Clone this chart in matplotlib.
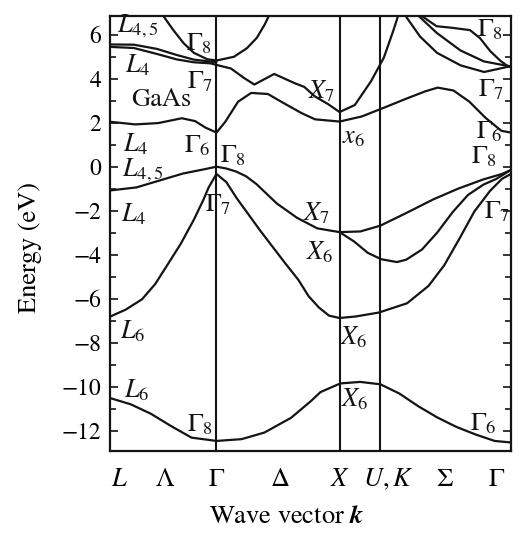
"""
GaAs band structure along L - Gamma - X - U,K - Gamma
output: out.png
"""

import matplotlib
matplotlib.use("Agg")
import matplotlib.pyplot as plt
from matplotlib.ticker import MultipleLocator

OUTPUT_PNG = "out.png"

# symmetry points along the path (Gamma-X = 1)
K_GAMMA = 0.875
K_X = 1.885
K_UK = 2.22
K_END = 3.29

# x tick labels and where they sit
XTICK_POS = [0.08, 0.45, 0.873, 1.394, 1.886, 2.287, 2.75, 3.17]
XTICK_TXT = [r"$L$", r"$\Lambda$", r"$\Gamma$", r"$\Delta$", r"$X$",
             r"$U,K$", r"$\Sigma$", r"$\Gamma$"]

# valence bands
V1_K = [0.0, 0.173, 0.338, 0.504, 0.670, 0.875, 1.080, 1.268, 1.487, 1.648,
        1.729, 1.891, 2.055, 2.220, 2.376, 2.532, 2.689, 2.846, 3.002, 3.157, 3.29]
V1_E = [-10.50, -10.79, -11.22, -11.78, -12.30, -12.45, -12.37, -12.07, -11.40,
        -10.65, -10.23, -9.84, -9.77, -9.88, -10.30, -10.88, -11.39, -11.82,
        -12.16, -12.45, -12.52]

V2_K = [0.0, 0.130, 0.264, 0.372, 0.478, 0.583, 0.689, 0.768, 0.810, 0.875,
        0.956, 1.041, 1.235, 1.437, 1.546, 1.631, 1.715, 1.798, 1.885, 2.017,
        2.208, 2.439, 2.615, 2.743, 2.869, 2.990, 3.119, 3.218, 3.29]
V2_E = [-6.81, -6.49, -6.02, -5.33, -4.41, -3.49, -2.41, -1.50, -0.95, -0.33,
        -0.70, -1.43, -2.91, -4.37, -5.13, -5.88, -6.39, -6.76, -6.87, -6.80,
        -6.62, -6.20, -5.41, -4.48, -3.26, -2.04, -1.10, -0.55, -0.33]

V3_K = [0.0, 0.219, 0.406, 0.600, 0.763, 0.875, 0.954, 1.037, 1.119, 1.203,
        1.370, 1.536, 1.702, 1.885, 2.055, 2.218, 2.426, 2.655, 2.861, 3.063,
        3.217, 3.29]
V3_E = [-1.08, -0.94, -0.63, -0.31, -0.13, 0.0, -0.08, -0.22, -0.44, -0.79,
        -1.67, -2.32, -2.80, -2.97, -2.94, -2.68, -2.12, -1.48, -0.99, -0.58,
        -0.33, -0.15]

V4_K = [1.885, 2.005, 2.116, 2.226, 2.356, 2.432, 2.561, 2.686, 2.813, 2.939,
        3.066, 3.169, 3.29]
V4_E = [-2.97, -3.40, -3.91, -4.20, -4.33, -4.22, -3.76, -2.99, -2.06, -1.28,
        -0.81, -0.56, -0.15]

# conduction bands
C1_K = [0.0, 0.209, 0.397, 0.591, 0.700, 0.783, 0.875, 0.946, 1.052, 1.160,
        1.297, 1.435, 1.574, 1.684, 1.885, 2.067, 2.254, 2.433, 2.587, 2.690,
        2.819, 2.950, 3.082, 3.212, 3.29]
C1_E = [2.04, 1.92, 1.98, 2.20, 2.07, 1.78, 1.55, 2.03, 2.95, 3.35, 3.30, 2.86,
        2.43, 2.15, 2.05, 2.28, 2.69, 3.09, 3.42, 3.59, 3.46, 2.95, 2.22, 1.63,
        1.55]

P1_K = [0.0, 0.196, 0.385, 0.55, 0.69, 0.827, 0.875]
P1_E = [5.55, 5.54, 5.35, 5.07, 4.86, 4.77, 4.75]

P2_K = [0.0, 0.196, 0.385, 0.55, 0.69, 0.83, 0.875, 0.993, 1.103, 1.186, 1.267,
        1.349, 1.513, 1.596, 1.680, 1.791, 1.885, 2.010, 2.143, 2.248, 2.326, 2.37]
P2_E = [5.44, 5.39, 5.12, 4.87, 4.74, 4.69, 4.62, 4.46, 4.02, 3.73, 3.97, 4.21,
        3.80, 3.62, 3.20, 2.84, 2.48, 2.80, 3.88, 4.95, 6.18, 6.94]

G8_K = [0.437, 0.521, 0.605, 0.689, 0.799, 0.875, 1.018, 1.125, 1.206, 1.272, 1.312]
G8_E = [6.86, 6.20, 5.61, 5.17, 4.88, 4.82, 4.99, 5.38, 5.85, 6.47, 6.93]

SA_K = [2.528, 2.680, 2.817, 2.955, 3.038, 3.122, 3.206, 3.261, 3.29]
SA_E = [6.96, 6.38, 6.30, 6.20, 5.83, 5.24, 4.80, 4.58, 4.55]

SB_K = [2.511, 2.681, 2.876, 3.069, 3.26, 3.29]
SB_E = [6.96, 6.08, 5.28, 4.78, 4.58, 4.55]

SC_K = [2.432, 2.545, 2.684, 2.878, 3.071, 3.26, 3.29]
SC_E = [6.80, 5.91, 5.17, 4.60, 4.30, 4.53, 4.55]

BANDS = [(V1_K, V1_E), (V2_K, V2_E), (V3_K, V3_E), (V4_K, V4_E),
         (C1_K, C1_E), (P1_K, P1_E), (P2_K, P2_E), (G8_K, G8_E),
         (SA_K, SA_E), (SB_K, SB_E), (SC_K, SC_E)]

# state labels
LABEL_TXT = [r"$L_{4,5}$", r"$\Gamma_8$", r"$L_4$", r"$\Gamma_7$", "GaAs",
             r"$L_4$", r"$\Gamma_6$", r"$L_{4,5}$", r"$\Gamma_8$", r"$L_4$",
             r"$\Gamma_7$", r"$X_7$", r"$X_6$", r"$L_6$", r"$X_6$", r"$L_6$",
             r"$X_6$", r"$\Gamma_8$", r"$\Gamma_6$", r"$\Gamma_7$",
             r"$\Gamma_8$", r"$\Gamma_7$", r"$\Gamma_6$", r"$\Gamma_8$",
             r"$X_7$", r"$x_6$"]
LABEL_K = [0.23, 0.73, 0.23, 0.74, 0.42, 0.21, 0.72, 0.27, 1.01, 0.20, 0.89,
           1.70, 1.72, 0.19, 2.00, 0.22, 2.01, 0.74, 3.06, 3.18, 3.12, 3.13,
           3.11, 3.07, 1.74, 2.00]
LABEL_E = [6.36, 5.58, 4.60, 3.82, 3.02, 1.00, 0.95, -0.18, 0.50, -2.17, -1.74,
           -2.12, -3.88, -7.48, -7.78, -10.15, -10.59, -11.75, -11.70, -2.07,
           6.22, 3.50, 1.55, 0.45, 3.42, 1.33]

INK = "#141414"


def main():
    plt.rcParams["font.family"] = "STIXGeneral"
    plt.rcParams["mathtext.fontset"] = "stix"

    fig = plt.figure(figsize=(5.28, 5.38), dpi=100)
    ax = fig.add_axes([0.208, 0.162, 0.7595, 0.8086])

    for k, e in BANDS:
        ax.plot(k, e, color=INK, lw=1.6, solid_capstyle="round",
                solid_joinstyle="round")

    for kv in (K_GAMMA, K_X, K_UK):
        ax.axvline(kv, color=INK, lw=1.5)

    ax.set_xlim(0, K_END)
    ax.set_ylim(-12.9, 6.85)

    for s in ax.spines.values():
        s.set_linewidth(1.6)
        s.set_color(INK)

    ax.set_yticks(range(-12, 7, 2))
    ax.yaxis.set_minor_locator(MultipleLocator(1))
    ax.tick_params(axis="y", which="both", direction="in", left=True,
                   right=True, labelsize=17, pad=6, color=INK, width=1.2)
    ax.tick_params(axis="y", which="major", length=6)
    ax.tick_params(axis="y", which="minor", length=4)

    ax.set_xticks(XTICK_POS)
    ax.set_xticklabels(XTICK_TXT)
    ax.tick_params(axis="x", length=0, labelsize=19, pad=12)

    ax.set_ylabel("Energy (eV)", fontsize=19)
    ax.yaxis.set_label_coords(-0.17, 0.467)
    ax.set_xlabel(r"Wave vector $\mathbfit{k}$", fontsize=19)
    ax.xaxis.set_label_coords(0.44, -0.125)

    for s, k, e in zip(LABEL_TXT, LABEL_K, LABEL_E):
        ax.text(k, e, s, fontsize=19, ha="center", va="center", color=INK)

    fig.savefig(OUTPUT_PNG, dpi=100, facecolor="white")
    plt.close(fig)


if __name__ == "__main__":
    main()
